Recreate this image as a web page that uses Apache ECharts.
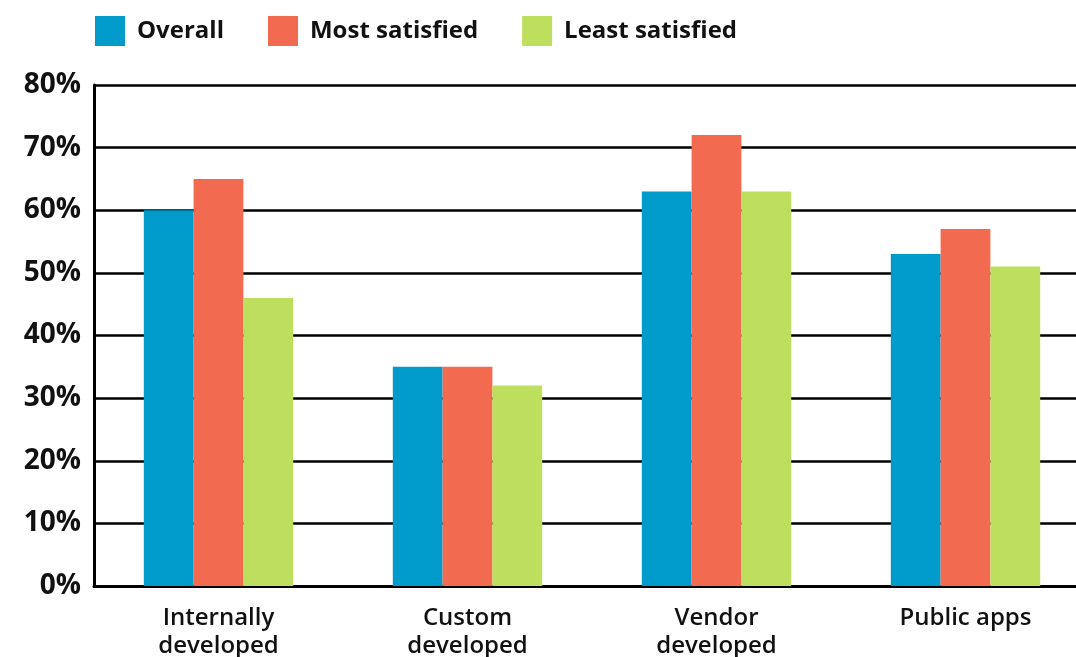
<!DOCTYPE html>
<html><head><meta charset="utf-8">
<script src="https://cdn.jsdelivr.net/npm/echarts@6/dist/echarts.min.js"></script>
<style>html,body{margin:0;padding:0;background:#fff;overflow:hidden}#c{width:1076px;height:657px}</style>
</head><body><div id="c"></div>
<script>
const categories = ['Internally\ndeveloped', 'Custom\ndeveloped', 'Vendor\ndeveloped', 'Public apps'];
const overall = [60, 35, 63, 53];
const mostSatisfied = [65, 35, 72, 57];
const leastSatisfied = [46, 32, 63, 51];
const seriesNames = ['Overall', 'Most satisfied', 'Least satisfied'];
const colors = ['#009BCB', '#F26B50', '#BEDF5E'];

const chart = echarts.init(document.getElementById('c'));
const font = '"Open Sans", "Noto Sans", sans-serif';
chart.setOption({
  animation: false,
  color: colors,
  textStyle: { fontFamily: font },
  legend: {
    left: 95, top: 16, padding: 0,
    itemWidth: 30, itemHeight: 30, itemGap: 44,
    icon: 'rect',
    textStyle: { fontSize: 24, fontWeight: 'bold', color: '#111', fontFamily: font, padding: [0, 0, 0, 7] },
    data: seriesNames
  },
  grid: { left: 94, top: 85, width: 996, height: 501, containLabel: false, outerBoundsMode: 'none' },
  xAxis: {
    type: 'category', data: categories,
    axisLine: { lineStyle: { color: '#000', width: 3 } },
    axisTick: { show: false },
    axisLabel: { fontSize: 24, fontWeight: 600, color: '#111', lineHeight: 28, margin: 18, fontFamily: font, interval: 0 }
  },
  yAxis: {
    type: 'value', min: 0, max: 80, interval: 10,
    axisLine: { show: true, lineStyle: { color: '#000', width: 3 } },
    axisTick: { show: false },
    splitLine: { lineStyle: { color: '#000', width: 2.5 } },
    axisLabel: { formatter: '{value}%', fontSize: 28, fontWeight: 'bold', color: '#111', margin: 13, fontFamily: font }
  },
  series: [
    { name: seriesNames[0], type: 'bar', data: overall, barGap: '0%', barCategoryGap: '40%' },
    { name: seriesNames[1], type: 'bar', data: mostSatisfied, barGap: '0%', barCategoryGap: '40%' },
    { name: seriesNames[2], type: 'bar', data: leastSatisfied, barGap: '0%', barCategoryGap: '40%' }
  ]
});
</script></body></html>
